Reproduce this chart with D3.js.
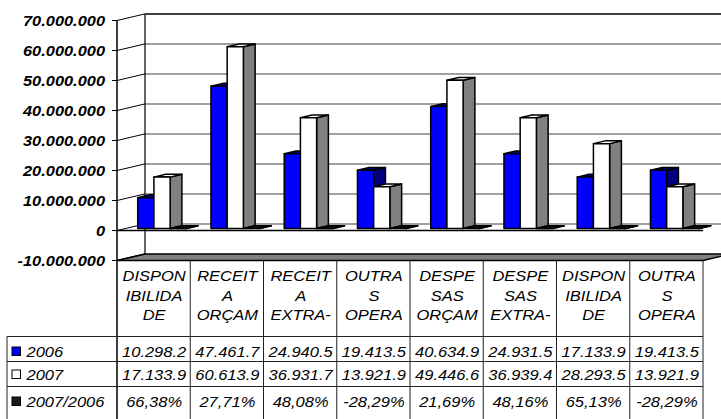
<!DOCTYPE html>
<html>
<head>
<meta charset="utf-8">
<script src="https://cdn.jsdelivr.net/npm/d3@7/dist/d3.min.js"></script>
<style>
  body { margin: 0; background: #fff; }
  svg { display: block; font-family: "Liberation Sans", Arial, sans-serif; }
</style>
</head>
<body>
<svg id="chart" width="721" height="419"></svg>
<script>
// categories (header text split in 3 lines, as in the table)
const categories = [
    ["DISPON", "IBILIDA", "DE"],
    ["RECEIT", "A", "ORÇAM"],
    ["RECEIT", "A", "EXTRA-"],
    ["OUTRA", "S", "OPERA"],
    ["DESPE", "SAS", "ORÇAM"],
    ["DESPE", "SAS", "EXTRA-"],
    ["DISPON", "IBILIDA", "DE"],
    ["OUTRA", "S", "OPERA"]
];
const seriesNames = ["2006", "2007", "2007/2006"];
const values2006 = [10298200, 47461700, 24940500, 19413500, 40634900, 24931500, 17133900, 19413500];
const values2007 = [17133900, 60613900, 36931700, 13921900, 49446600, 36939400, 28293500, 13921900];
const valuesRatio = [0.6638, 0.2771, 0.4808, -0.2829, 0.2169, 0.4816, 0.6513, -0.2829];
const yTicks = [-10000000, 0, 10000000, 20000000, 30000000, 40000000, 50000000, 60000000, 70000000];

const svg = d3.select("#chart");
const loc = d3.formatLocale({decimal: ",", thousands: ".", grouping: [3], currency: ["", ""], minus: "-"});
const fmtNum = loc.format(",d");
const fmtPct = loc.format(".2%");

const left = 117, right = 703;
const depth = {x: 28, y: -6.6};
const f0 = 0.3, f1 = 0.72;

const y = d3.scaleLinear().domain([-10000000, 70000000]).range([260.5, 20.5]);
const x = d3.scaleBand().domain(d3.range(categories.length)).range([left, right]);
const xs = d3.scaleBand().domain(seriesNames).range([0, x.bandwidth()]).paddingOuter(0.76);

const colors = {
    "2006": {front: "#0000ff", top: "#000080", side: "#000080"},
    "2007": {front: "#ffffff", top: "#ffffff", side: "#808080"},
    "2007/2006": {front: "#1a1a1a", top: "#111111", side: "#333333"}
};

// text stretched horizontally like the original export
function stretched(g, tx, ty, str, opts) {
    return g.append("text")
        .attr("transform", `translate(${tx},${ty}) scale(${opts.sx},1)`)
        .attr("dy", "0.36em")
        .attr("text-anchor", opts.anchor || "middle")
        .style("font-size", opts.size + "px")
        .style("font-style", "italic")
        .style("font-weight", opts.bold ? "bold" : "normal")
        .text(str);
}

// floor
const yMin = y(-10000000);
svg.append("path")
    .attr("d", `M${left},${yMin} L${right},${yMin} L${right + depth.x},${yMin + depth.y} L${left + depth.x},${yMin + depth.y} Z`)
    .attr("fill", "#808080").attr("stroke", "#000").attr("stroke-width", 1.5);

// back wall gridlines
svg.append("g").selectAll("line")
    .data(yTicks.filter(d => d > -10000000))
    .join("line")
    .attr("x1", left + depth.x).attr("x2", right + depth.x + 40)
    .attr("y1", d => y(d) + depth.y).attr("y2", d => y(d) + depth.y)
    .attr("stroke", d => d === 70000000 ? "#404040" : "#808080")
    .attr("stroke-width", d => d === 70000000 ? 2 : 1.5);

// side wall lines
svg.append("g").selectAll("line")
    .data(yTicks)
    .join("line")
    .attr("x1", left).attr("x2", left + depth.x)
    .attr("y1", d => y(d)).attr("y2", d => y(d) + depth.y)
    .attr("stroke", "#000").attr("stroke-width", 1);

svg.append("line")
    .attr("x1", left + depth.x).attr("x2", left + depth.x)
    .attr("y1", y(70000000) + depth.y).attr("y2", yMin + depth.y)
    .attr("stroke", "#000").attr("stroke-width", 1.2);

// zero plane front edge
svg.append("line")
    .attr("x1", left).attr("x2", right)
    .attr("y1", y(0)).attr("y2", y(0))
    .attr("stroke", "#000").attr("stroke-width", 1.5);

// front value axis
svg.append("line")
    .attr("x1", left).attr("x2", left)
    .attr("y1", y(70000000)).attr("y2", 419)
    .attr("stroke", "#000").attr("stroke-width", 1.5);

svg.append("g").selectAll("line")
    .data(yTicks)
    .join("line")
    .attr("x1", left - 5).attr("x2", left)
    .attr("y1", d => y(d)).attr("y2", d => y(d))
    .attr("stroke", "#000").attr("stroke-width", 1);

const yLab = svg.append("g");
yTicks.forEach(d => stretched(yLab, 105, y(d), fmtNum(d), {sx: 1.13, size: 14.5, bold: true, anchor: "end"}));

// bars
const seriesValues = [values2006, values2007, valuesRatio];
const bars = [];
categories.forEach((c, i) => {
    seriesNames.forEach((s, j) => bars.push({i, s, v: seriesValues[j][i]}));
});

const dd = {x: (f1 - f0) * depth.x, y: (f1 - f0) * depth.y};
const barG = svg.append("g");
bars.forEach(b => {
    const x0 = x(b.i) + xs(b.s) + f0 * depth.x;
    const x1 = x0 + xs.bandwidth();
    const yTop = y(Math.max(b.v, 0)) + f0 * depth.y;
    const yBot = y(Math.min(b.v, 0)) + f0 * depth.y;
    const c = colors[b.s];
    const g = barG.append("g").attr("stroke", "#000").attr("stroke-width", 1.5).attr("stroke-linejoin", "round");
    g.append("path")
        .attr("d", `M${x1},${yTop} L${x1 + dd.x},${yTop + dd.y} L${x1 + dd.x},${yBot + dd.y} L${x1},${yBot} Z`)
        .attr("fill", c.side);
    g.append("path")
        .attr("d", `M${x0},${yTop} L${x1},${yTop} L${x1 + dd.x},${yTop + dd.y} L${x0 + dd.x},${yTop + dd.y} Z`)
        .attr("fill", c.top);
    g.append("rect")
        .attr("x", x0).attr("y", yTop)
        .attr("width", xs.bandwidth()).attr("height", Math.max(yBot - yTop, 0))
        .attr("fill", c.front);
});

// data table
const tableLeft = 7;
const rowLines = [336.5, 361.5, 386.5];
const rowCenters = [351.5, 374.5, 401.5];
const headCenters = [275.5, 295.5, 315];

const tg = svg.append("g").attr("stroke", "#222").attr("stroke-width", 1);
rowLines.forEach(ry => {
    tg.append("line").attr("x1", tableLeft).attr("x2", right).attr("y1", ry).attr("y2", ry);
});
tg.append("line").attr("x1", tableLeft).attr("x2", tableLeft).attr("y1", rowLines[0]).attr("y2", 419);
d3.range(1, categories.length + 1).forEach(k => {
    const xx = k < categories.length ? x(k) : right;
    tg.append("line").attr("x1", xx).attr("x2", xx).attr("y1", yMin).attr("y2", 419);
});

const tt = svg.append("g");
categories.forEach((c, i) => {
    const cx = x(i) + x.bandwidth() / 2 + 0.5;
    c.forEach((line, k) => stretched(tt, cx, headCenters[k], line, {sx: 1.1, size: 15}));
    const cells = [fmtNum(values2006[i]).slice(0, 8), fmtNum(values2007[i]).slice(0, 8), fmtPct(valuesRatio[i])];
    cells.forEach((t, r) => stretched(tt, cx, rowCenters[r], t, {sx: 1.1, size: 15}));
});

seriesNames.forEach((s, r) => {
    svg.append("rect")
        .attr("x", 12).attr("y", rowCenters[r] - 4.5)
        .attr("width", 8.5).attr("height", 8.5)
        .attr("fill", colors[s].front).attr("stroke", "#000").attr("stroke-width", 1);
    stretched(tt, 26.5, rowCenters[r], s, {sx: 1.1, size: 15, anchor: "start"});
});
</script>
</body>
</html>
